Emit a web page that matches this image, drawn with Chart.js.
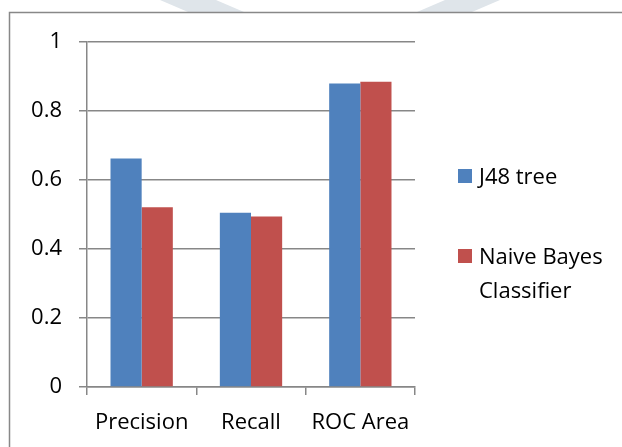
<!DOCTYPE html>
<html>
<head>
<meta charset="utf-8">
<script src="https://cdn.jsdelivr.net/npm/chart.js@4.4.1/dist/chart.umd.min.js"></script>
<style>
  html, body { margin: 0; padding: 0; background: #ffffff; }
  #wrap { width: 622px; height: 447px; position: relative; }
</style>
</head>
<body>
<div id="wrap"><canvas id="c" width="622" height="447"></canvas></div>
<script>
const categories = ["Precision", "Recall", "ROC Area"];
const seriesNames = ["J48 tree", ["Naive Bayes", "Classifier"]];
const j48Values = [0.662, 0.505, 0.880];
const naiveBayesValues = [0.521, 0.494, 0.885];
const yTicks = [0, 0.2, 0.4, 0.6, 0.8, 1];

const FONT = "'Open Sans', 'Noto Sans', sans-serif";
const FSIZE = 22;
const GRID = "#878787";

const decorPlugin = {
  id: 'decor',
  beforeDraw(chart) {
    const ctx = chart.ctx;
    ctx.save();
    ctx.fillStyle = "#dfe5ea";
    ctx.beginPath();
    ctx.moveTo(160, 0); ctx.lineTo(216, 0); ctx.lineTo(244, 12); ctx.lineTo(188, 12);
    ctx.closePath(); ctx.fill();
    ctx.beginPath();
    ctx.moveTo(445, 0); ctx.lineTo(500, 0); ctx.lineTo(472, 12); ctx.lineTo(417, 12);
    ctx.closePath(); ctx.fill();
    ctx.strokeStyle = "#888888";
    ctx.lineWidth = 1.5;
    ctx.beginPath();
    ctx.moveTo(9.5, 447); ctx.lineTo(9.5, 12.5); ctx.lineTo(622, 12.5);
    ctx.stroke();
    ctx.restore();
  },
  afterDraw(chart) {
    const ctx = chart.ctx;
    ctx.save();
    ctx.font = FSIZE + "px " + FONT;
    ctx.textBaseline = "alphabetic";
    const tops = [169, 249];
    chart.data.datasets.forEach((ds, i) => {
      ctx.fillStyle = ds.backgroundColor;
      ctx.fillRect(458, tops[i], 14, 14);
      ctx.fillStyle = "#000000";
      const lines = Array.isArray(ds.label) ? ds.label : [ds.label];
      lines.forEach((t, k) => ctx.fillText(t, 479, tops[i] + 15 + k * 34));
    });
    ctx.restore();
  }
};

new Chart(document.getElementById('c'), {
  type: 'bar',
  data: {
    labels: categories,
    datasets: [
      { label: seriesNames[0], data: j48Values, backgroundColor: "#4F81BD" },
      { label: seriesNames[1], data: naiveBayesValues, backgroundColor: "#C0504D" }
    ]
  },
  options: {
    responsive: false,
    animation: false,
    devicePixelRatio: 1,
    layout: { padding: { left: 0, right: 207, top: 42, bottom: 0 } },
    plugins: { legend: { display: false }, tooltip: { enabled: false } },
    datasets: { bar: { categoryPercentage: 0.57, barPercentage: 1.0 } },
    scales: {
      x: {
        afterFit(s) { s.height = 60; },
        grid: { drawOnChartArea: false, drawTicks: true, tickLength: 8, color: GRID, lineWidth: 1.5 },
        border: { color: GRID, width: 1.5 },
        ticks: { color: "#000000", font: { family: FONT, size: FSIZE }, padding: 15, maxRotation: 0 }
      },
      y: {
        min: 0, max: 1,
        afterFit(s) { s.width = 87; },
        afterBuildTicks(s) { s.ticks = yTicks.map(v => ({ value: v })); },
        grid: { color: GRID, lineWidth: 1.5, tickLength: 8 },
        border: { color: GRID, width: 1.5 },
        ticks: { color: "#000000", font: { family: FONT, size: FSIZE }, padding: 17,
                 callback: v => String(Math.round(v * 10) / 10) }
      }
    }
  },
  plugins: [decorPlugin]
});
</script>
</body>
</html>
